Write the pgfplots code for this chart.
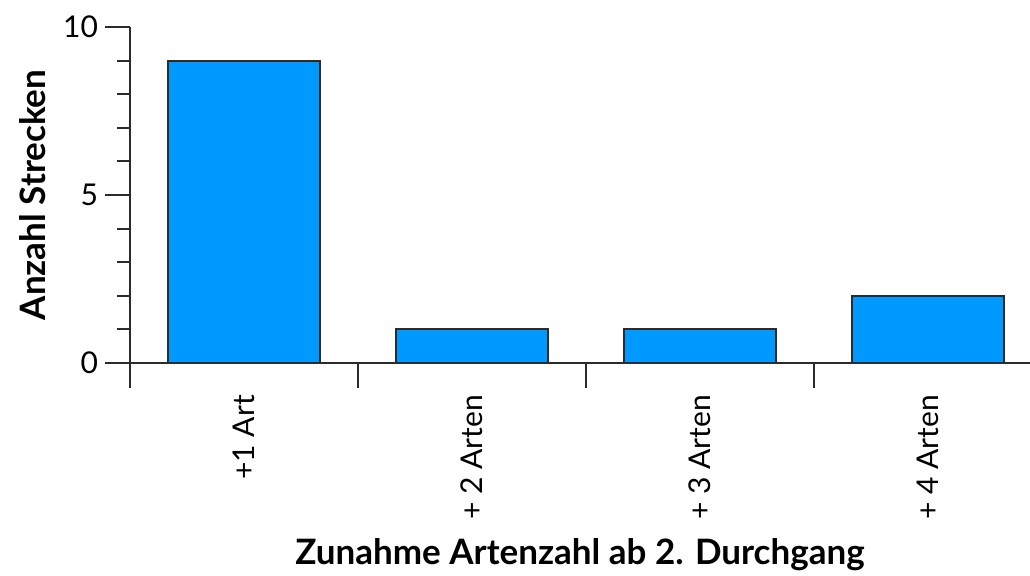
\documentclass[border=0pt]{standalone}
\usepackage{fontspec}
\setmainfont{Lato}
\usepackage{pgfplots}
\pgfplotsset{compat=1.18}
\definecolor{barblue}{HTML}{0099FF}
\definecolor{ink}{HTML}{2B2B2B}
\begin{document}
\begin{tikzpicture}
\begin{axis}[
  name=ax,
  width=450pt, height=168pt, scale only axis,
  xmin=-0.5, xmax=3.447, ymin=0, ymax=10,
  axis lines*=left,
  axis line style={ink, line width=1pt},
  tick align=outside,
  major tick length=12.5pt, minor tick length=6.5pt,
  tick style={ink, line width=1pt},
  ytick={0,5,10}, minor ytick={1,2,3,4,6,7,8,9},
  xtick={-0.5,0.5,1.5,2.5}, xticklabels={},
  extra x ticks={0,1,2,3},
  extra x tick labels={+1 Art,+ 2 Arten,+ 3 Arten,+ 4 Arten},
  extra x tick style={tick style={draw=none},
    ticklabel style={rotate=90, anchor=east, font=\fontsize{15}{17}\selectfont}},
  yticklabel style={font=\fontsize{15}{17}\selectfont},
  /pgf/number format/assume math mode=true,
  ylabel={Anzahl Strecken},
  xlabel={Zunahme Artenzahl ab 2. Durchgang},
  ylabel style={at={(axis description cs:-0.108,0.5)}, anchor=center,
    font=\bfseries\fontsize{17.5}{19}\selectfont},
  xlabel style={at={(axis description cs:0.5,-0.571)}, anchor=center,
    font=\bfseries\fontsize{17.5}{19}\selectfont},
  ybar, bar width=0.67,
]
\addplot[fill=barblue, draw=ink, line width=1pt] coordinates {(0,9) (1,1) (2,1) (3,2)};
\end{axis}
\pgfresetboundingbox
\path[use as bounding box] ([xshift=-65pt,yshift=-106.5pt]ax.south west) rectangle ([yshift=13.5pt]ax.north east);
\end{tikzpicture}
\end{document}
